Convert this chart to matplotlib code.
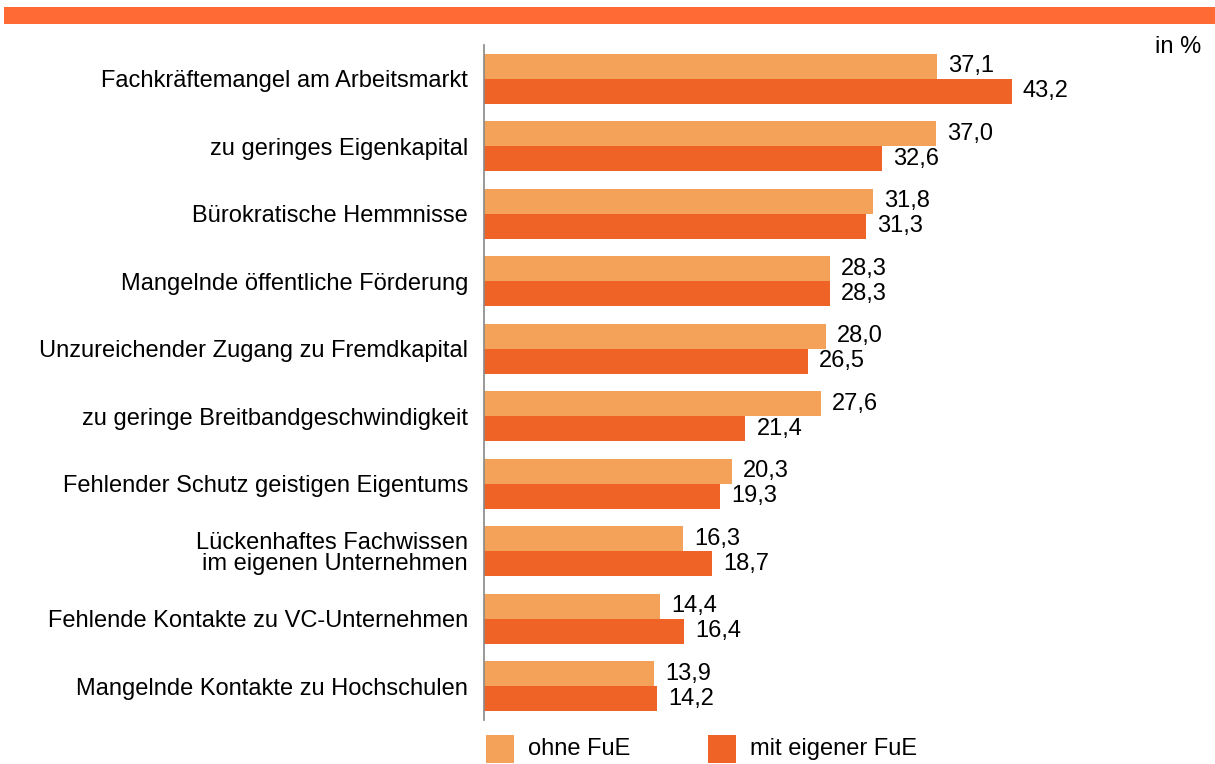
import matplotlib.pyplot as plt
from matplotlib.patches import Rectangle
import numpy as np

plt.rcParams['font.family'] = ['Liberation Sans', 'DejaVu Sans']

categories = ["Fachkräftemangel am Arbeitsmarkt",
              "zu geringes Eigenkapital",
              "Bürokratische Hemmnisse",
              "Mangelnde öffentliche Förderung",
              "Unzureichender Zugang zu Fremdkapital",
              "zu geringe Breitbandgeschwindigkeit",
              "Fehlender Schutz geistigen Eigentums",
              "Lückenhaftes Fachwissen\nim eigenen Unternehmen",
              "Fehlende Kontakte zu VC-Unternehmen",
              "Mangelnde Kontakte zu Hochschulen"]
ohne_fue = [37.1, 37.0, 31.8, 28.3, 28.0, 27.6, 20.3, 16.3, 14.4, 13.9]
mit_fue = [43.2, 32.6, 31.3, 28.3, 26.5, 21.4, 19.3, 18.7, 16.4, 14.2]
series_names = ["ohne FuE", "mit eigener FuE"]

light = '#F4A25A'
dark = '#EF6426'
band = '#FF6A35'
fs = 17

W, H = 1215, 764
fig = plt.figure(figsize=(W / 100, H / 100), dpi=100)
ax = fig.add_axes([484 / W, 1 - 720 / H, (1156 - 484) / W, (720 - 45) / H])

y = np.arange(len(categories))
h = 0.37
ax.barh(y - h / 2, ohne_fue, height=h, color=light)
ax.barh(y + h / 2, mit_fue, height=h, color=dark)

for yi, v in zip(y, ohne_fue):
    ax.annotate(f"{v:.1f}".replace('.', ','), (v, yi - h / 2), xytext=(8, 0),
                textcoords='offset points', va='center', ha='left', fontsize=fs)
for yi, v in zip(y, mit_fue):
    ax.annotate(f"{v:.1f}".replace('.', ','), (v, yi + h / 2), xytext=(8, 0),
                textcoords='offset points', va='center', ha='left', fontsize=fs)

ax.set_xlim(0, 55)
ax.set_ylim(len(categories) - 0.5, -0.5)
ax.set_yticks(y)
ax.set_yticklabels(categories, fontsize=fs, ha='right', multialignment='right')
ax.get_yticklabels()[7].set_linespacing(0.95)
ax.tick_params(axis='y', length=0, pad=11.5)
ax.set_xticks([])
for s in ['top', 'right', 'bottom']:
    ax.spines[s].set_visible(False)
ax.spines['left'].set_color('#888888')
ax.spines['left'].set_linewidth(1.2)

# top band
fig.add_artist(Rectangle((4 / W, 1 - 24 / H), 1 - 4 / W, 17 / H,
                         transform=fig.transFigure, color=band, lw=0))
fig.text(1201 / W, 1 - 47 / H, "in %", ha='right', va='center', fontsize=fs)

# legend
for x0, col, name in [(486, light, series_names[0]), (708, dark, series_names[1])]:
    fig.add_artist(Rectangle((x0 / W, 1 - 763 / H), 28 / W, 28 / H,
                             transform=fig.transFigure, color=col, lw=0))
    fig.text((x0 + 42) / W, 1 - 749 / H, name, ha='left', va='center', fontsize=fs)

fig.savefig('out.png', dpi=100)
